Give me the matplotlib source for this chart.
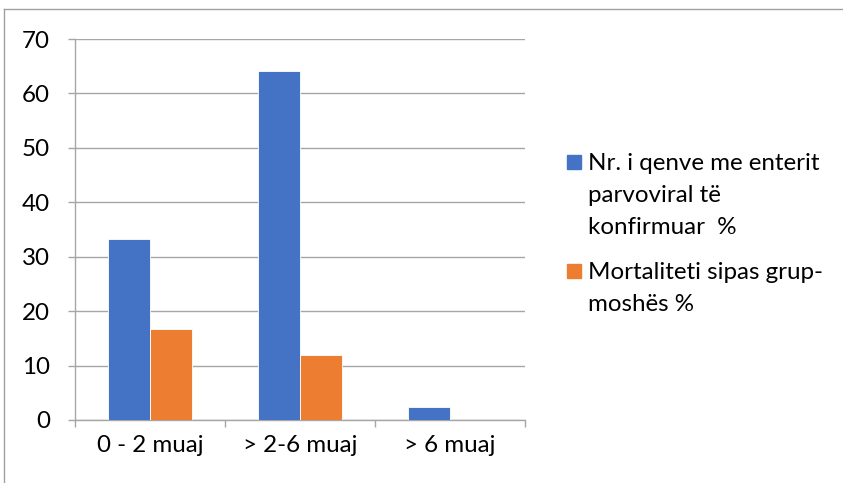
import matplotlib
matplotlib.use("Agg")
import matplotlib.pyplot as plt
from matplotlib.lines import Line2D
from matplotlib.patches import Rectangle

categories = ["0 - 2 muaj", "> 2-6 muaj", "> 6 muaj"]
confirmed_pct = [33.3, 64.1, 2.3]
mortality_pct = [16.7, 11.9, 0.0]
series_labels = [
    ["Nr. i qenve me enterit", "parvoviral të", "konfirmuar  %"],
    ["Mortaliteti sipas grup-", "moshës %"],
]
yticks = [0, 10, 20, 30, 40, 50, 60, 70]

BLUE = "#4472C4"
ORANGE = "#ED7D31"
GRID = "#A6A6A6"
FONT = "Lato"
FS = 17.4

W, H = 843, 483
fig = plt.figure(figsize=(W / 100, H / 100), dpi=100)
ax = fig.add_axes([75 / W, 1 - 420 / H, 450 / W, 381 / H])

x = list(range(len(categories)))
bw = 0.28
ax.bar([i - bw / 2 for i in x], confirmed_pct, width=bw, color=BLUE,
       edgecolor="white", linewidth=0.6, zorder=3)
ax.bar([i + bw / 2 for i in x], mortality_pct, width=bw, color=ORANGE,
       edgecolor="white", linewidth=0.6, zorder=3)

ax.set_xlim(-0.5, len(categories) - 0.5)
ax.set_ylim(0, 70)
ax.set_yticks(yticks)
ax.set_yticklabels([str(t) for t in yticks], fontfamily=FONT, fontsize=FS)
ax.yaxis.grid(True, color=GRID, linewidth=1.0, zorder=0)
ax.set_axisbelow(True)

ax.set_xticks(x)
ax.set_xticklabels(categories, fontfamily=FONT, fontsize=FS)
ax.set_xticks([i - 0.5 for i in range(len(categories) + 1)], minor=True)
ax.tick_params(axis="x", which="major", length=0, pad=11)
ax.tick_params(axis="x", which="minor", length=5, color=GRID, width=1)
ax.tick_params(axis="y", length=5, color=GRID, width=1, pad=13)

for s in ["top", "right"]:
    ax.spines[s].set_visible(False)
for s in ["left", "bottom"]:
    ax.spines[s].set_color(GRID)
    ax.spines[s].set_linewidth(1.0)

# legend drawn by hand so the swatch sits on the first line of each entry
baselines = [[170, 202, 234], [279, 311]]
colors = [BLUE, ORANGE]
sq = 14
for lines, ys, c in zip(series_labels, baselines, colors):
    fig.patches.append(Rectangle((567 / W, 1 - (ys[0] - 1) / H), sq / W, sq / H,
                                 transform=fig.transFigure, color=c))
    for txt, y in zip(lines, ys):
        fig.text(588 / W, 1 - y / H, txt, fontfamily=FONT, fontsize=FS,
                 va="baseline", ha="left", color="black")

# chart frame
fig.add_artist(Line2D([4 / W, 4 / W], [0, 1 - 9 / H], transform=fig.transFigure,
                      color="#A0A0A0", linewidth=1.0))
fig.add_artist(Line2D([4 / W, 1], [1 - 9 / H, 1 - 9 / H], transform=fig.transFigure,
                      color="#A0A0A0", linewidth=1.0))

fig.savefig("out.png", dpi=100)
